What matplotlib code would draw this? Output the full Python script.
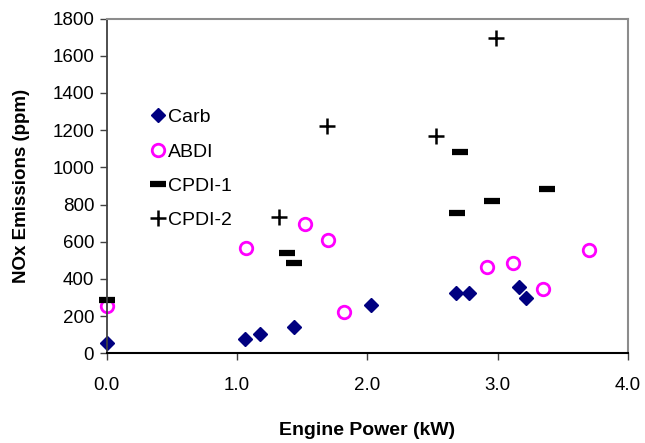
import matplotlib.pyplot as plt

plt.rcParams['font.family'] = ['Liberation Sans', 'DejaVu Sans']

# data
carb_x = [0.0, 1.06, 1.18, 1.44, 2.03, 2.68, 2.78, 3.16, 3.22]
carb_y = [54, 75, 102, 143, 260, 322, 322, 355, 297]

abdi_x = [0.0, 1.07, 1.52, 1.70, 1.82, 2.92, 3.12, 3.35, 3.70]
abdi_y = [254, 564, 695, 609, 224, 464, 485, 347, 555]

cpdi1_x = [0.0, 1.38, 1.44, 2.69, 2.96, 3.38, 2.71]
cpdi1_y = [287, 537, 484, 753, 820, 885, 1084]

cpdi2_x = [1.32, 1.69, 2.53, 2.99]
cpdi2_y = [734, 1222, 1168, 1693]

x_ticks = [0.0, 1.0, 2.0, 3.0, 4.0]
y_ticks = [0, 200, 400, 600, 800, 1000, 1200, 1400, 1600, 1800]

fig = plt.figure(figsize=(6.45, 4.43), dpi=100)
ax = fig.add_axes([0.1654, 0.2025, 0.8082, 0.7557])

ax.plot(carb_x, carb_y, 'D', color='#000080', ms=7, mec='#000080', label='Carb', clip_on=False)
ax.plot(abdi_x, abdi_y, 'o', mfc='none', mec='#ff00ff', ms=9, mew=2, label='ABDI', clip_on=False)
ax.plot(cpdi1_x, cpdi1_y, '_', color='black', ms=11, mew=4.5, label='CPDI-1', clip_on=False)
ax.plot(cpdi2_x, cpdi2_y, '+', color='black', ms=11, mew=1.8, label='CPDI-2', clip_on=False)

ax.set_xlim(0, 4)
ax.set_ylim(0, 1800)
ax.set_xticks(x_ticks)
ax.set_xticklabels(['%.1f' % t for t in x_ticks])
ax.set_yticks(y_ticks)
ax.tick_params(axis='both', labelsize=13.5, direction='out', length=5, width=1, color='#404040')
ax.tick_params(axis='x', pad=12)
ax.tick_params(axis='y', pad=4)

for s in ['top', 'right']:
    ax.spines[s].set_color('#8c8c8c')
    ax.spines[s].set_linewidth(1.5)
ax.spines['left'].set_color('#404040')
ax.spines['bottom'].set_color('black')
ax.spines['left'].set_linewidth(1.3)
ax.spines['bottom'].set_linewidth(1.5)

ax.set_xlabel('Engine Power (kW)', fontsize=14, fontweight='bold', labelpad=20)
ax.set_ylabel('NOx Emissions (ppm)', fontsize=13.5, fontweight='bold', labelpad=16)

ax.legend(loc='upper left', bbox_to_anchor=(0.068, 0.76), frameon=False, fontsize=14,
          handlelength=0.6, handletextpad=0.25, labelspacing=0.86, borderpad=0, numpoints=1)

plt.savefig('out.png', dpi=100)
